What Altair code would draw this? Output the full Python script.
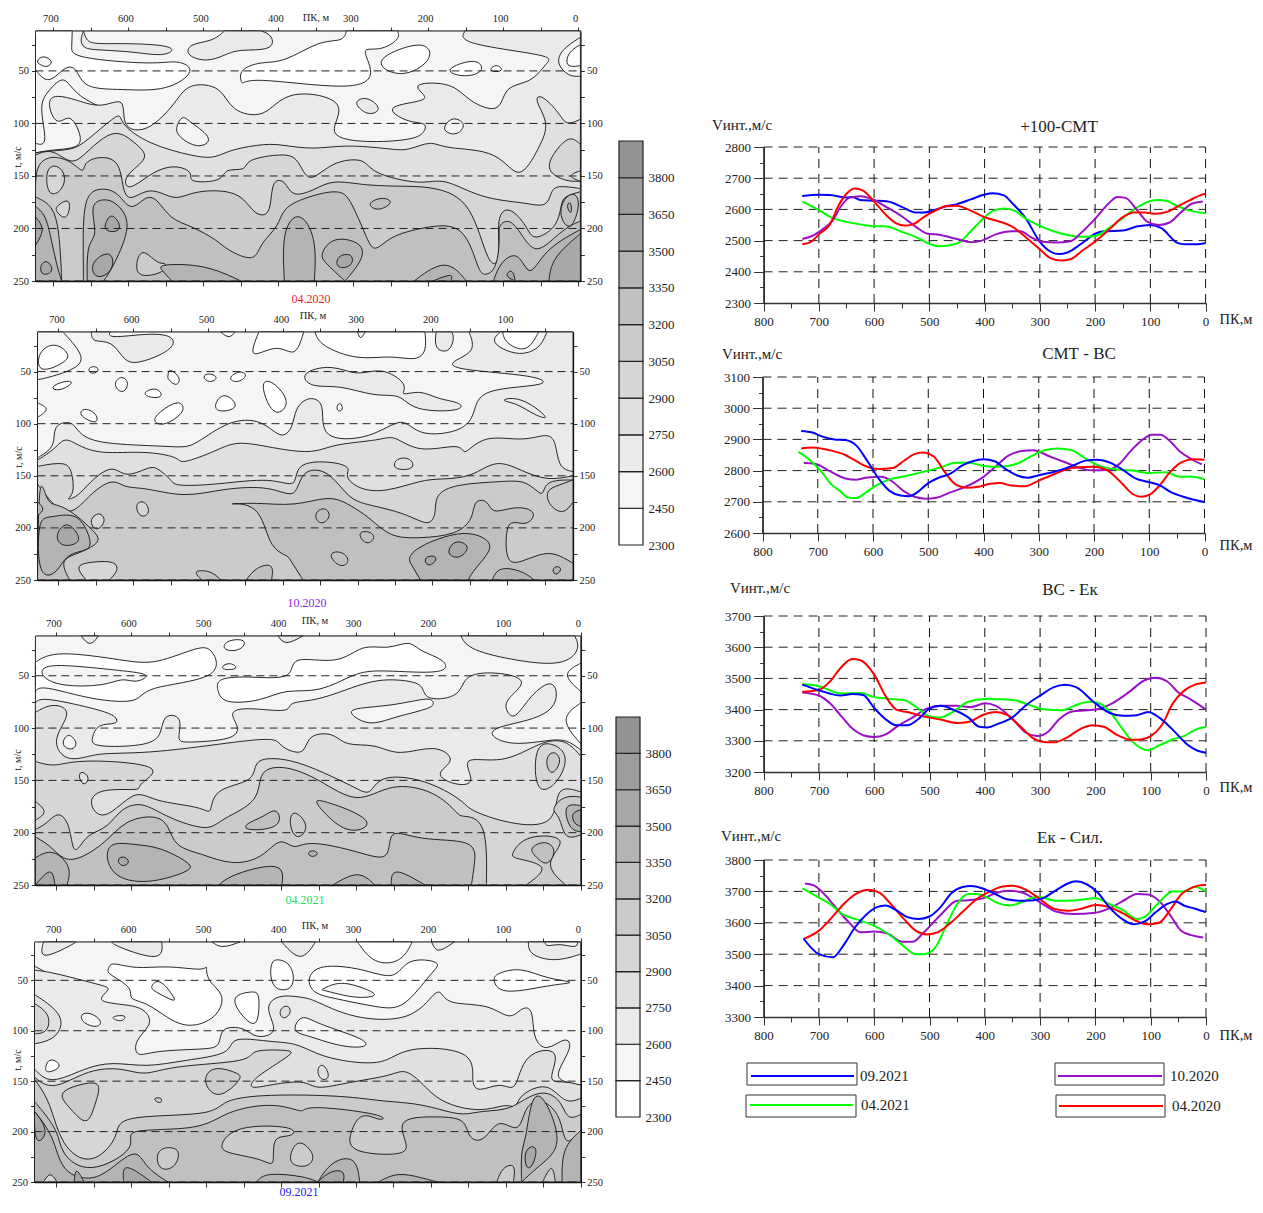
import altair as alt, pandas as pd
alt.data_transformers.disable_max_rows()
W,H=1247,1191
FONT="Liberation Serif"
GRAYS=["#ffffff","#f5f5f5","#eaeaea","#e0e0e0","#d6d6d6","#cbcbcb","#c0c0c0","#b4b4b4","#a8a8a8","#9d9d9d","#939393"]
LEVELS=[2300,2450,2600,2750,2900,3050,3200,3350,3500,3650,3800,3950]

P1_SHAPES=[
(0,[(724,49),(706,60),(685,47),(669,49),(655,65),(608,67),(551,67),(516,50),(538,41),(571,43),(663,37),(674,27),(675,12),(724,12)]),
(1,[(723,41),(714,36),(702,41),(709,46),(717,44)]),
(2,[(660,12),(655,20),(642,24),(598,24),(543,27),(554,35),(592,32),(636,30),(658,28),(663,20)]),
(2,[(472,12),(489,21),(516,25),(519,35),(495,40),(472,35),(451,30),(412,29),(410,17),(423,12)]),
(0,[(450,50),(445,63),(429,57),(309,66),(276,52),(287,30),(265,30),(241,20),(241,12),(309,12),(317,21),(347,23),(391,40),(423,42)]),
(0,[(267,41),(227,27),(203,27),(200,40),(235,54)]),
(0,[(173,50),(156,43),(135,41),(129,50),(151,55)]),
(0,[(118,50),(109,44),(101,50)]),
(1,[(724,119),(710,117),(717,85),(706,70),(685,57),(666,75),(614,92),(608,101),(608,250),(724,250)]),
(2,[(724,128),(701,125),(668,122),(666,109),(679,93),(695,100),(706,81),(695,74),(668,78),(636,84),(608,78),(606,100),(587,106),(565,100),(538,81),(518,64),(478,67),(461,86),(418,92),(385,71),(314,81),(331,109),(282,117),(227,115),(208,109),(205,100),(227,98),(252,85),(211,79),(205,73),(216,63),(170,63),(145,78),(107,87),(96,66),(64,60),(45,43),(47,35),(145,24),(151,12),(-3,12),(-3,250),(724,250)]),
(1,[(-3,18),(20,30),(26,43),(12,54),(-3,55)]),
(0,[(-3,25),(12,33),(14,45),(-3,45)]),
(3,[(724,128),(701,126),(676,124),(655,116),(614,92),(608,101),(570,119),(516,130),(486,132),(461,125),(418,120),(391,121),(352,124),(309,121),(254,124),(227,125),(197,118),(173,124),(110,128),(80,150),(53,122),(42,100),(56,79),(47,75),(26,90),(15,100),(-3,96),(-3,250),(724,250)]),
(4,[(724,130),(701,126),(676,137),(655,127),(620,108),(593,119),(576,133),(603,149),(598,162),(568,147),(538,141),(516,147),(516,155),(478,154),(470,144),(445,144),(439,135),(396,130),(374,135),(358,154),(328,138),(287,135),(271,147),(211,157),(178,154),(129,170),(74,175),(45,178),(36,166),(26,160),(-3,162),(-3,250),(724,250)]),
(5,[(724,159),(720,140),(701,132),(676,137),(660,146),(655,135),(617,134),(608,159),(597,172),(570,162),(538,172),(510,165),(456,166),(434,184),(412,185),(408,157),(391,156),(380,168),(352,163),(325,155),(282,159),(227,160),(189,163),(145,179),(121,230),(105,227),(107,192),(91,182),(69,198),(58,209),(31,198),(23,179),(17,170),(-3,165),(-3,250),(724,250)]),
(4,[(709,154),(706,143),(695,141),(685,150),(690,163),(704,167)]),
(4,[(695,179),(681,173),(679,182),(685,190),(695,184)]),
(6,[(724,170),(703,180),(693,205),(689,250),(724,250)]),
(6,[(660,250),(660,216),(657,173),(636,163),(614,167),(597,181),(578,171),(562,173),(543,190),(516,198),(483,211),(467,220),(434,229),(423,214),(401,198),(391,181),(358,170),(320,165),(303,176),(284,205),(271,220),(249,208),(205,200),(156,200),(135,236),(124,243),(110,236),(105,211),(105,198),(91,193),(75,206),(56,221),(31,208),(12,198),(-3,193),(-3,250)]),
(7,[(724,179),(711,189),(703,211),(695,236),(689,250),(724,250)]),
(7,[(649,179),(630,173),(614,179),(600,198),(619,233),(633,250),(655,250),(654,217),(643,205)]),
(5,[(589,236),(581,221),(562,233),(551,233),(554,241),(581,245)]),
(7,[(392,250),(392,205),(372,188),(352,211),(352,250)]),
(7,[(341,224),(325,210),(292,215),(290,230),(311,250),(336,233)]),
(7,[(219,250),(178,233),(149,250)]),
(7,[(113,250),(102,233),(80,225),(64,246),(42,221),(-3,201),(-3,250)]),
(7,[(552,235),(499,236),(450,250),(542,250),(554,240)]),
(8,[(724,189),(714,201),(724,216)]),
(8,[(717,236),(709,231),(701,240),(714,244)]),
(8,[(630,195),(622,187),(611,198),(619,203),(630,201)]),
(8,[(648,233),(625,223),(622,239),(642,247)]),
(8,[(320,227),(303,225),(303,235),(320,237)]),
(8,[(39,250),(31,228),(-3,205),(-3,250)]),
(8,[(194,250),(170,244),(170,250)]),
(8,[(96,245),(88,240),(84,250)]),
(6,[(276,175),(262,171),(249,175),(265,182),(276,179)]),
(2,[(295,79),(281,76),(265,86),(279,91),(292,85)]),
(1,[(535,103),(527,94),(516,100),(491,114),(508,122),(532,112)]),
(1,[(178,103),(167,95),(152,101),(162,110),(175,108)]),
(4,[(39,144),(31,128),(12,114),(-3,120),(-3,155),(17,154)]),
(3,[(11,150),(-3,145),(-3,155)]),
(6,[(23,181),(15,170),(4,168),(-1,179),(9,198),(20,193)]),
(7,[(15,179),(10,175),(9,186)]),
]

P2_SHAPES=[
(1,[(694,12),(669,35),(683,48),(725,57),(728,57),(728,12)]),
(0,[(725,32),(705,24),(688,33),(694,41),(725,49)]),
(2,[(656,12),(652,21),(629,22),(612,38),(593,41),(562,33),(547,24),(553,16),(582,14),(627,17),(631,12)]),
(0,[(483,12),(472,17),(464,12)]),
(0,[(432,12),(441,35),(408,25),(385,33),(372,12)]),
(0,[(357,12),(345,25),(300,37),(258,35),(224,38),(210,29),(210,12)]),
(1,[(300,12),(296,18),(290,12)]),
(2,[(195,12),(195,27),(179,30),(172,19),(174,12)]),
(2,[(728,134),(725,131),(706,121),(705,103),(683,99),(672,108),(644,118),(570,121),(536,122),(514,118),(472,99),(430,98),(404,112),(388,103),(382,86),(365,76),(345,83),(343,112),(283,112),(241,96),(216,110),(160,105),(143,86),(126,68),(54,63),(70,54),(160,48),(171,40),(146,30),(151,12),(12,12),(12,250),(728,250)]),
(1,[(109,12),(118,22),(87,33),(59,27),(47,12)]),
(0,[(106,12),(100,22),(75,29),(58,12)]),
(2,[(371,52),(334,45),(300,53),(269,48),(236,62),(241,72),(216,69),(193,76),(165,80),(168,87),(222,86),(244,73),(278,73),(323,64),(359,64)]),
(2,[(106,78),(81,76),(47,94),(64,91),(87,81)]),
(0,[(660,48),(653,45),(646,48),(654,52)]),
(0,[(553,54),(551,48),(538,56),(543,63),(553,57)]),
(0,[(506,55),(498,52),(488,56),(498,60)]),
(0,[(471,56),(458,50),(449,54),(461,60)]),
(0,[(625,62),(615,55),(607,62),(615,70)]),
(0,[(708,64),(688,59),(683,62),(700,68)]),
(0,[(586,71),(570,66),(562,73),(573,75)]),
(0,[(489,80),(477,72),(461,84),(486,88)]),
(0,[(427,62),(413,61),(394,78),(405,89),(418,83)]),
(0,[(569,92),(545,80),(534,83),(537,91),(556,100),(569,99)]),
(0,[(670,89),(663,86),(650,91),(650,99),(666,94)]),
(0,[(328,85),(324,80),(320,85),(324,88)]),
(0,[(728,80),(715,86),(728,94)]),
(3,[(728,135),(705,124),(691,115),(672,121),(641,128),(587,127),(543,132),(533,137),(489,126),(458,118),(407,124),(360,127),(329,120),(273,116),(250,113),(216,126),(165,120),(157,129),(129,113),(81,116),(50,111),(36,118),(30,140),(12,146),(12,250),(728,250)]),
(4,[(728,141),(694,138),(683,147),(680,166),(688,172),(674,169),(657,156),(629,142),(610,150),(582,143),(568,143),(549,154),(538,159),(487,158),(419,153),(385,159),(379,140),(340,137),(312,142),(315,151),(295,162),(261,164),(216,155),(188,153),(148,150),(115,137),(81,145),(47,153),(12,150),(12,250),(728,250)]),
(3,[(250,143),(247,134),(230,134),(227,143)]),
(5,[(728,158),(715,170),(701,180),(680,184),(657,168),(629,155),(610,161),(582,162),(531,169),(480,163),(419,161),(385,169),(373,147),(340,147),(312,170),(283,178),(238,186),(207,196),(196,185),(193,169),(165,159),(109,156),(75,156),(53,169),(47,156),(12,154),(12,250),(728,250)]),
(4,[(674,237),(652,233),(627,233),(622,241),(632,250),(663,250)]),
(4,[(657,193),(646,186),(638,193),(649,202)]),
(4,[(596,178),(585,175),(579,185),(590,189)]),
(6,[(373,250),(390,231),(396,226),(418,215),(434,180),(472,178),(434,176),(385,178),(340,171),(312,178),(283,191),(255,207),(216,209),(171,205),(148,191),(143,175),(126,175),(118,185),(89,180),(64,185),(75,197),(95,194),(101,210),(98,231),(81,232),(58,226),(36,225),(12,234),(12,250)]),
(6,[(725,159),(715,175),(701,178),(680,186),(657,201),(646,213),(672,224),(694,232),(685,250),(728,250)]),
(6,[(517,242),(497,242),(483,250),(508,250)]),
(6,[(449,250),(435,239),(415,236),(415,250)]),
(6,[(357,188),(346,181),(337,188),(348,196)]),
(6,[(298,205),(284,204),(278,210),(289,215)]),
(6,[(337,226),(323,223),(312,231),(323,237)]),
(5,[(46,165),(30,159),(12,154),(12,175),(25,185),(42,178)]),
(7,[(230,229),(216,218),(165,205),(132,210),(123,221),(143,239),(152,250),(216,250),(227,236)]),
(8,[(210,228),(193,228),(205,237)]),
(8,[(177,220),(168,213),(152,218),(163,228),(176,226)]),
(7,[(725,197),(710,191),(676,188),(659,210),(662,221),(688,226),(702,242),(725,247)]),
(8,[(702,207),(691,197),(680,201),(672,213),(694,217)]),
(7,[(39,240),(33,237),(28,240),(35,245)]),
(7,[(120,250),(109,239),(81,242),(64,250)]),
(7,[(728,175),(720,182),(728,188)]),
]

P3_SHAPES=[
(0,[(728,37),(694,28),(612,35),(567,37),(514,24),(494,27),(491,51),(576,61),(593,74),(652,72),(713,61),(728,65)]),
(1,[(716,43),(691,40),(618,45),(579,49),(595,56),(612,53),(640,59),(691,59),(716,51)]),
(0,[(480,53),(438,51),(388,51),(382,33),(326,37),(292,22),(258,24),(230,18),(213,27),(185,35),(188,47),(264,45),(303,49),(348,64),(393,64),(427,73),(472,75),(483,64)]),
(0,[(475,25),(472,17),(449,16),(455,25)]),
(0,[(478,41),(468,38),(459,43),(475,44)]),
(2,[(404,12),(393,19),(371,12)]),
(2,[(667,12),(655,20),(644,12)]),
(2,[(160,12),(143,25),(84,35),(28,38),(3,25),(8,12)]),
(0,[(0,38),(20,49),(0,65)]),
(0,[(0,76),(22,92),(0,115)]),
(2,[(728,76),(713,72),(654,81),(624,88),(621,96),(643,97),(651,110),(643,117),(587,116),(562,107),(556,89),(534,91),(537,110),(522,113),(469,110),(458,99),(466,86),(444,81),(393,84),(388,76),(354,73),(315,64),(270,54),(225,56),(211,62),(202,72),(163,68),(152,50),(107,48),(76,56),(98,72),(98,83),(87,89),(67,70),(39,56),(34,76),(62,91),(115,100),(112,110),(84,115),(45,112),(20,112),(0,121),(0,250),(728,250)]),
(1,[(306,86),(281,96),(247,89),(202,81),(199,75),(208,72),(250,78),(295,81)]),
(3,[(728,85),(705,78),(683,86),(702,110),(688,128),(663,128),(635,124),(567,123),(458,113),(410,111),(399,118),(371,124),(362,108),(331,106),(312,116),(275,116),(242,125),(197,118),(171,131),(191,143),(169,153),(143,151),(154,129),(104,132),(56,115),(22,113),(0,127),(0,250),(728,250)]),
(1,[(691,113),(683,106),(673,115),(680,120),(688,118)]),
(4,[(728,132),(700,136),(663,131),(567,137),(591,153),(591,159),(635,159),(654,170),(635,186),(596,162),(567,170),(511,175),(494,180),(486,159),(438,150),(433,131),(388,131),(343,143),(303,156),(281,162),(264,147),(208,151),(160,169),(146,178),(96,190),(39,190),(31,159),(0,161),(0,250),(728,250)]),
(3,[(668,143),(663,143),(657,148),(663,154),(669,148)]),
(4,[(59,121),(39,116),(20,127),(31,150),(57,159)]),
(5,[(46,131),(37,123),(27,131),(39,144)]),
(5,[(728,197),(713,191),(697,182),(683,194),(677,217),(666,210),(654,201),(632,194),(612,178),(584,173),(551,185),(500,196),(478,186),(433,169),(427,143),(393,138),(348,150),(298,169),(253,155),(197,162),(166,181),(157,185),(129,194),(126,250),(728,250)]),
(4,[(728,170),(715,180),(728,188)]),
(5,[(37,178),(22,166),(0,166),(0,202),(20,204),(28,185)]),
(7,[(20,175),(0,174),(0,199),(14,195)]),
(8,[(11,182),(0,178),(0,194),(8,191)]),
(5,[(90,220),(70,204),(22,207),(45,229),(20,250),(73,250),(48,233),(84,225)]),
(6,[(66,215),(48,209),(35,217),(45,230),(59,223)]),
(6,[(728,204),(708,213),(691,224),(669,224),(635,209),(607,190),(570,185),(551,194),(539,212),(506,220),(466,229),(427,223),(402,207),(382,215),(360,209),(298,218),(258,224),(253,199),(213,207),(149,209),(143,229),(146,250),(728,250)]),
(6,[(444,191),(424,185),(407,178),(404,194),(444,197)]),
(5,[(382,180),(365,194),(379,205),(388,191)]),
(6,[(351,172),(343,170),(281,188),(309,199),(340,182)]),
(7,[(630,212),(596,212),(562,215),(525,229),(528,237),(579,247),(624,239)]),
(8,[(618,226),(610,223),(603,228),(612,232)]),
(7,[(728,224),(705,218),(683,233),(686,250),(728,250)]),
(8,[(728,250),(708,236),(702,250)]),
(7,[(483,250),(461,240),(404,231),(399,250)]),
(7,[(331,250),(298,239),(275,250)]),
(7,[(253,250),(247,236),(208,250)]),
(7,[(364,220),(358,217),(351,220),(358,223)]),
]

P4_SHAPES=[
(2,[(717,12),(717,27),(678,14),(675,12)]),
(2,[(626,12),(615,17),(565,28),(559,12)]),
(2,[(399,12),(374,28),(354,12)]),
(0,[(298,12),(275,31),(242,30),(225,12)]),
(0,[(492,12),(478,17),(455,12)]),
(2,[(199,12),(190,21),(169,12)]),
(2,[(70,12),(65,24),(34,30),(0,24),(0,12)]),
(1,[(48,12),(44,16),(28,14),(8,17),(4,12)]),
(0,[(629,39),(624,33),(593,38),(551,36),(506,40),(500,36),(497,51),(478,65),(489,86),(522,95),(551,87),(579,73),(601,68),(601,57),(629,44)]),
(1,[(573,57),(562,50),(545,65),(544,70),(565,62)]),
(0,[(413,35),(404,30),(387,36),(385,57),(410,57)]),
(0,[(463,67),(438,62),(430,67),(433,94),(452,84)]),
(0,[(362,49),(345,36),(292,39),(250,47),(230,30),(191,33),(202,44),(236,74),(270,76),(326,68),(354,62)]),
(1,[(343,59),(320,52),(287,59),(275,65),(303,67),(340,60)]),
(0,[(115,49),(107,43),(79,39),(45,48),(10,52),(45,55),(101,62)]),
(2,[(729,36),(708,46),(717,57),(729,58)]),
(2,[(729,40),(702,43),(646,54),(629,59),(643,71),(596,75),(579,84),(576,95),(593,110),(590,124),(565,120),(506,118),(483,114),(478,98),(449,98),(433,106),(407,100),(419,78),(402,66),(376,67),(354,70),(303,86),(230,87),(197,63),(185,64),(171,73),(124,75),(96,87),(79,78),(65,81),(62,106),(45,118),(22,108),(14,118),(31,141),(22,150),(0,154),(0,250),(729,250)]),
(3,[(729,64),(694,85),(702,106),(729,113)]),
(4,[(729,73),(711,84),(713,100),(729,103)]),
(1,[(666,84),(654,83),(641,90),(646,96),(663,92)]),
(1,[(624,86),(608,85),(612,90),(621,89)]),
(3,[(402,81),(393,75),(387,81),(396,88)]),
(1,[(382,100),(371,86),(348,94),(292,108),(292,116),(326,114),(362,105)]),
(0,[(714,137),(708,128),(694,135),(710,141)]),
(3,[(729,138),(705,150),(663,138),(624,132),(579,135),(528,129),(472,122),(463,108),(416,111),(382,113),(354,122),(320,129),(264,132),(230,118),(152,122),(146,148),(135,159),(107,152),(87,157),(73,125),(31,121),(42,148),(22,150),(0,154),(0,250),(729,250)]),
(4,[(729,146),(702,156),(657,140),(612,138),(581,143),(539,135),(449,130),(438,120),(393,120),(390,125),(433,146),(438,156),(416,154),(371,150),(351,157),(309,151),(258,145),(236,140),(213,151),(185,170),(135,179),(101,173),(87,176),(79,164),(45,154),(22,170),(0,167),(0,250),(729,250)]),
(5,[(500,145),(486,137),(461,142),(455,148),(480,164),(497,157)]),
(5,[(694,162),(663,153),(643,154),(649,173),(660,191),(680,177)]),
(3,[(351,138),(343,134),(336,146),(347,148)]),
(5,[(570,167),(559,167),(562,172)]),
(5,[(729,148),(708,173),(691,211),(654,229),(618,205),(607,186),(500,183),(475,170),(416,164),(320,165),(264,170),(213,173),(163,183),(138,180),(101,178),(79,170),(51,161),(28,170),(17,186),(0,183),(0,250),(729,250)]),
(6,[(729,170),(699,199),(691,220),(654,238),(596,215),(602,199),(512,197),(472,181),(410,173),(371,181),(360,175),(270,183),(270,189),(292,183),(306,202),(301,219),(242,222),(233,211),(239,189),(191,186),(157,189),(149,205),(129,208),(109,189),(84,199),(73,176),(51,170),(28,186),(20,211),(0,199),(0,250),(729,250)]),
(5,[(478,213),(455,196),(388,196),(388,205),(410,207),(410,232),(427,227),(469,221)]),
(5,[(386,221),(375,210),(357,223),(365,234),(385,232)]),
(5,[(565,227),(559,217),(537,218),(542,234),(559,237)]),
(7,[(729,180),(705,205),(691,236),(660,246),(632,240),(596,220),(580,235),(551,250),(729,250)]),
(7,[(433,250),(416,242),(371,245),(351,250)]),
(7,[(351,250),(331,231),(303,228),(295,250)]),
(8,[(351,250),(334,240),(317,240),(317,250)]),
(7,[(270,250),(244,242),(213,246),(191,250)]),
(7,[(79,221),(73,205),(65,170),(51,167),(34,195),(34,218),(56,234),(79,250)]),
(8,[(73,234),(73,218),(59,216),(65,234)]),
(5,[(112,250),(104,237),(89,234),(90,250)]),
(5,[(51,250),(39,235),(34,250)]),
(8,[(729,180),(713,199),(727,210)]),
(4,[(717,250),(708,242),(699,250)]),
(8,[(676,250),(673,238),(663,250)]),
(8,[(607,234),(573,250),(610,250)]),
(7,[(0,199),(22,218),(25,250),(0,250)]),
]

L1_BLUE=[(730,2643),(700,2647),(680,2646),(650,2638),(640,2640),(625,2630),(600,2628),(575,2625),(550,2608),(525,2590),(510,2590),(490,2598),(470,2610),(450,2617),(425,2632),(400,2648),(385,2652),(365,2645),(350,2620),(325,2570),(300,2496),(275,2460),(265,2457),(250,2462),(225,2490),(200,2522),(185,2530),(150,2532),(125,2545),(100,2550),(80,2540),(50,2492),(35,2488),(15,2488),(0,2492)]
L1_RED=[(730,2488),(715,2495),(700,2520),(680,2552),(665,2610),(650,2650),(635,2667),(620,2660),(600,2625),(580,2585),(560,2555),(545,2548),(530,2552),(510,2575),(490,2595),(470,2610),(450,2612),(430,2600),(400,2575),(375,2562),(350,2545),(325,2510),(300,2472),(280,2443),(262,2436),(245,2440),(225,2465),(200,2497),(175,2535),(150,2575),(130,2590),(110,2590),(90,2586),(70,2592),(50,2610),(30,2628),(10,2645),(0,2650)]
L1_GREEN=[(730,2625),(700,2598),(675,2572),(650,2560),(625,2552),(600,2546),(580,2546),(550,2528),(525,2512),(500,2490),(485,2482),(465,2484),(445,2495),(425,2530),(400,2575),(385,2595),(365,2603),(345,2595),(325,2570),(300,2547),(275,2530),(250,2518),(225,2512),(200,2515),(175,2540),(150,2572),(125,2605),(100,2627),(85,2630),(70,2627),(50,2610),(30,2597),(0,2588)]
L1_PURPLE=[(730,2505),(710,2517),(690,2540),(675,2565),(660,2610),(645,2637),(625,2642),(600,2630),(580,2610),(550,2578),(525,2545),(505,2523),(480,2518),(450,2505),(425,2495),(405,2500),(380,2520),(350,2530),(335,2530),(315,2510),(295,2496),(270,2494),(245,2498),(225,2525),(200,2570),(175,2620),(160,2640),(145,2637),(125,2600),(105,2560),(85,2550),(65,2558),(45,2590),(25,2618),(5,2625)]
L2_BLUE=[(730,2927),(710,2922),(690,2908),(670,2900),(650,2898),(630,2880),(610,2830),(590,2775),(570,2735),(550,2720),(535,2718),(520,2730),(500,2760),(480,2778),(460,2790),(440,2815),(420,2830),(400,2836),(380,2830),(360,2805),(340,2785),(320,2777),(300,2785),(270,2797),(240,2815),(215,2832),(195,2835),(170,2825),(150,2805),(125,2775),(100,2763),(80,2752),(60,2730),(40,2717),(15,2705),(0,2699)]
L2_RED=[(730,2871),(710,2874),(680,2866),(650,2850),(630,2830),(610,2812),(590,2805),(565,2808),(545,2830),(525,2853),(510,2858),(490,2845),(470,2795),(450,2755),(430,2745),(410,2748),(390,2757),(370,2760),(350,2752),(325,2750),(300,2768),(270,2790),(240,2808),(200,2812),(175,2800),(150,2760),(130,2725),(115,2716),(100,2722),(80,2755),(60,2800),(40,2828),(20,2836),(0,2835)]
L2_GREEN=[(735,2860),(715,2835),(695,2800),(675,2755),(660,2735),(645,2714),(630,2712),(615,2727),(595,2752),(570,2772),(540,2783),(500,2800),(475,2812),(450,2825),(425,2825),(400,2815),(370,2812),(340,2822),(315,2845),(290,2865),(265,2871),(240,2865),(215,2838),(190,2815),(165,2805),(130,2800),(100,2792),(70,2795),(45,2780),(25,2781),(0,2772)]
L2_PURPLE=[(725,2824),(705,2822),(680,2800),(650,2775),(630,2771),(610,2778),(585,2780),(565,2765),(545,2735),(525,2716),(505,2710),(485,2713),(460,2730),(430,2750),(400,2780),(380,2810),(355,2848),(330,2863),(310,2865),(280,2845),(250,2825),(225,2808),(205,2801),(175,2802),(155,2820),(135,2860),(115,2895),(95,2915),(80,2915),(60,2890),(45,2862),(25,2838),(5,2820)]
L3_RED=[(730,3457),(700,3463),(680,3490),(660,3535),(640,3562),(625,3558),(600,3512),(580,3445),(560,3400),(540,3392),(510,3378),(480,3368),(450,3357),(430,3360),(400,3385),(380,3392),(360,3383),(335,3345),(310,3305),(290,3295),(275,3295),(250,3312),(225,3340),(205,3350),(185,3345),(160,3318),(135,3303),(115,3305),(100,3315),(80,3350),(60,3420),(40,3460),(20,3480),(0,3487)]
L3_BLUE=[(730,3480),(700,3462),(660,3445),(640,3450),(620,3447),(600,3405),(580,3370),(560,3350),(540,3350),(520,3370),(500,3403),(480,3412),(460,3402),(430,3375),(410,3345),(395,3343),(375,3355),(350,3375),(325,3415),(300,3445),(275,3472),(255,3480),(235,3472),(200,3420),(175,3390),(150,3380),(125,3382),(105,3392),(85,3375),(60,3335),(35,3290),(15,3268),(0,3262)]
L3_GREEN=[(730,3482),(700,3475),(660,3452),(625,3453),(600,3440),(575,3435),(545,3430),(525,3410),(500,3378),(480,3375),(460,3390),(430,3425),(400,3434),(370,3433),(345,3430),(320,3415),(290,3400),(260,3398),(235,3415),(210,3425),(190,3418),(170,3385),(150,3335),(125,3285),(105,3270),(85,3285),(60,3305),(40,3315),(20,3335),(0,3345)]
L3_PURPLE=[(730,3455),(700,3445),(680,3420),(660,3380),(640,3340),(620,3318),(600,3312),(580,3320),(555,3350),(530,3375),(505,3403),(480,3412),(450,3412),(425,3408),(400,3420),(380,3412),(350,3370),(325,3325),(305,3315),(285,3330),(265,3370),(240,3395),(200,3400),(175,3415),(140,3455),(110,3495),(90,3502),(70,3490),(50,3455),(30,3435),(0,3400)]
L4_BLUE=[(728,3550),(700,3500),(675,3490),(655,3530),(635,3585),(615,3625),(595,3650),(580,3655),(560,3640),(540,3618),(520,3612),(500,3620),(480,3650),(460,3695),(440,3714),(425,3717),(405,3710),(385,3695),(360,3675),(330,3670),(300,3675),(270,3705),(250,3725),(235,3732),(215,3722),(195,3695),(175,3650),(150,3610),(130,3595),(110,3605),(90,3635),(70,3660),(55,3668),(40,3655),(20,3645),(0,3634)]
L4_RED=[(728,3548),(700,3575),(680,3610),(655,3660),(630,3695),(610,3705),(590,3695),(570,3660),(545,3610),(525,3575),(505,3563),(485,3570),(465,3595),(440,3635),(415,3675),(390,3700),(370,3715),(350,3718),(325,3705),(300,3675),(275,3645),(250,3638),(225,3645),(200,3657),(175,3650),(150,3630),(125,3605),(105,3595),(85,3600),(65,3640),(45,3690),(25,3712),(5,3720),(0,3720)]
L4_GREEN=[(730,3710),(700,3680),(680,3660),(655,3625),(630,3610),(600,3590),(575,3565),(550,3530),(525,3500),(510,3500),(490,3520),(470,3590),(450,3660),(430,3692),(415,3692),(395,3680),(375,3662),(355,3655),(330,3668),(305,3683),(270,3670),(230,3673),(200,3678),(175,3660),(150,3640),(125,3612),(110,3620),(85,3665),(60,3700),(40,3700),(20,3715),(0,3700)]
L4_PURPLE=[(725,3725),(710,3720),(695,3700),(670,3650),(645,3600),(625,3570),(600,3572),(575,3565),(550,3540),(530,3540),(510,3570),(480,3625),(450,3670),(430,3672),(400,3680),(380,3695),(355,3702),(330,3695),(300,3665),(270,3635),(240,3628),(200,3632),(170,3650),(145,3675),(125,3692),(105,3690),(85,3670),(65,3625),(45,3575),(25,3560),(5,3553)]

BLUE,RED,GREEN,PURPLE="#0000ff","#ff0000","#00ff00","#9a12c8"
OX,OY=8,8
def px(a,b): return [a-OX,b-OX]
def py(a,b): return [a-OY,b-OY]

def contour(shapes,xr,yr,xd,yd,xticks,lo=-3):
    L,R=xd; T,B=yd
    rows=[]
    full=[(1,[(L,T),(R,T),(R,B),(L,B)])]+shapes
    def on_edge(p,t): return p>=L-0.5 or p<=R+0.5 or t<=T+1 or t>=B-0.5
    for i,(lev,pts) in enumerate(full):
        k=0; n=len(pts)
        for j,(p,t) in enumerate(pts):
            p=min(max(p,R),L); t=min(max(t,T),B)
            edge=on_edge(p,t)
            if not edge:
                # basis-spline control point chosen so the closed curve runs through the read point
                a,b=pts[j-1],pts[(j+1)%n]
                p=min(max(p*4/3-(a[0]+b[0])/6,R),L); t=min(max(t*4/3-(a[1]+b[1])/6,T),B)
            for _ in range(3 if edge else 1):
                rows.append(dict(pk=p,t=t,id=f"{i:03d}",k=k,f=GRAYS[lev])); k+=1
    xs=alt.Scale(domain=[L,R],range=px(*xr),nice=False,zero=False)
    ys=alt.Scale(domain=[T,B],range=py(*yr),nice=False,zero=False)
    tvals=[25*i for i in range(1,11)]
    lab=dict(labelFont=FONT,labelFontSize=10.5,labelColor="#222",domainColor="#111",tickColor="#333",domainWidth=1.3,tickWidth=1,grid=False,title=None,labelOverlap=False)
    area=alt.Chart(pd.DataFrame(rows)).mark_line(stroke="#111",strokeWidth=0.9,interpolate="basis-closed").encode(
        x=alt.X("pk:Q",scale=xs,axis=alt.Axis(orient="top",offset=-(yr[0]-OY),values=xticks,labelExpr="datum.value%100==0?datum.label:''",tickSize=4,labelPadding=4,labelOffset=lo,labelFlush=False,**lab)),
        y=alt.Y("t:Q",scale=ys,axis=alt.Axis(orient="left",offset=-(xr[0]-OX),values=tvals,labelExpr="datum.value%50==0?datum.label:''",tickSize=4,labelPadding=3,**lab)),
        detail="id:N",order="k:Q",fill=alt.Fill("f:N",scale=None))
    gr=pd.DataFrame(dict(t=[50,100,150,200,250],a=[L]*5,b=[R]*5))
    grid=alt.Chart(gr).mark_rule(stroke="#222",strokeWidth=1,strokeDash=[8,5]).encode(
        y=alt.Y("t:Q",scale=ys,axis=alt.Axis(orient="right",offset=xr[1]-OX-W,values=tvals,labelExpr="datum.value%50==0?datum.label:''",tickSize=4,labelPadding=2,**lab)),
        x=alt.X("a:Q",scale=xs,axis=alt.Axis(orient="bottom",offset=yr[1]-OY-H,values=xticks,labels=False,tickSize=5,**lab)),x2="b:Q")
    return [area,grid]

def lines(series,xr,yr,yd):
    xs=alt.Scale(domain=[800,0],range=px(*xr),nice=False,zero=False)
    ys=alt.Scale(domain=list(yd),range=[yr[1]-OY,yr[0]-OY],nice=False,zero=False)
    lab=dict(labelFont=FONT,labelFontSize=13,labelColor="#222",grid=False,title=None,tickColor="#333",tickWidth=1,format="d",labelFlush=False,labelOverlap=False)
    yv=list(range(yd[0],yd[1]+1,100)); xv=list(range(0,801,100))
    h=pd.DataFrame(dict(v=yv[1:],a=[800]*(len(yv)-1),b=[0]*(len(yv)-1)))
    v=pd.DataFrame(dict(p=xv[:-1],a=[yd[0]]*8,b=[yd[1]]*8))
    g1=alt.Chart(h).mark_rule(stroke="#222",strokeWidth=1,strokeDash=[9,6]).encode(
        y=alt.Y("v:Q",scale=ys,axis=alt.Axis(orient="left",offset=-(xr[0]-OX),values=yv,tickSize=10,labelPadding=3,domainColor="#111",domainWidth=1.6,**lab)),
        x=alt.X("a:Q",scale=xs,axis=None),x2="b:Q")
    g2=alt.Chart(v).mark_rule(stroke="#111",strokeWidth=1,strokeDash=[9,6]).encode(
        x=alt.X("p:Q",scale=xs,axis=alt.Axis(orient="bottom",offset=yr[1]-OY-H,values=xv,tickSize=8,labelPadding=4,domainColor="#333",domainWidth=1.6,**lab)),
        y=alt.Y("a:Q",scale=ys,axis=None),y2="b:Q")
    rows=[]
    for nm,col,pts in series:
        rows+=[dict(pk=p,v=w,s=nm,c=col,k=i) for i,(p,w) in enumerate(pts)]
    ln=alt.Chart(pd.DataFrame(rows)).mark_line(strokeWidth=2,interpolate="monotone").encode(
        x=alt.X("pk:Q",scale=xs,axis=alt.Axis(orient="bottom",offset=yr[1]-OY-H,values=list(range(0,801,50)),labels=False,tickSize=5,domain=False,**lab)),
        y=alt.Y("v:Q",scale=ys,axis=alt.Axis(orient="left",offset=-(xr[0]-OX),values=list(range(yd[0],yd[1]+1,50)),labels=False,tickSize=4,domain=False,**lab)),
        detail="s:N",order="k:Q",stroke=alt.Stroke("c:N",scale=None))
    return [g1,g2,ln]

def colorbar(xr,yr):
    ys=alt.Scale(domain=[2300,3950],range=[yr[1]-OY,yr[0]-OY],nice=False,zero=False)
    xs=alt.Scale(domain=[0,1],range=px(*xr))
    d=pd.DataFrame(dict(a=[0]*11,b=[1]*11,lo=LEVELS[:-1],hi=LEVELS[1:],f=GRAYS))
    return [alt.Chart(d).mark_rect(stroke="#222",strokeWidth=1.2).encode(
        x=alt.X("a:Q",scale=xs,axis=None),x2="b:Q",
        y=alt.Y("lo:Q",scale=ys,axis=alt.Axis(orient="right",offset=xr[1]-OX-W,values=LEVELS[:-1],format="d",title=None,grid=False,domain=False,ticks=False,labelFont=FONT,labelFontSize=13,labelColor="#222",labelPadding=5)),
        y2="hi:Q",fill=alt.Fill("f:N",scale=None))]

def legend():
    BOX=[("09.2021",BLUE,747,857,1063,1085,751,854,1076,860),("04.2021",GREEN,746,856,1095,1117,750,853,1105,861),("10.2020",PURPLE,1055,1164,1063,1085,1058,1162,1076,1170),("04.2020",RED,1056,1165,1095,1117,1059,1163,1106,1172)]
    d=pd.DataFrame([dict(n=n,c=c,x0=a-OX,x1=b-OX,y0=e-OY,y1=f-OY,l0=g-OX,l1=h-OX,ly=i-OY,tx=j-OX) for n,c,a,b,e,f,g,h,i,j in BOX])
    base=alt.Chart(d)
    r=base.mark_rect(fill="white",stroke="#333",strokeWidth=1).encode(x=alt.X("x0:Q",scale=None,axis=None),x2="x1:Q",y=alt.Y("y0:Q",scale=None,axis=None),y2="y1:Q")
    l=base.mark_rule(strokeWidth=2).encode(x=alt.X("l0:Q",scale=None,axis=None),x2="l1:Q",y=alt.Y("ly:Q",scale=None,axis=None),stroke=alt.Stroke("c:N",scale=None))
    t=base.mark_text(font=FONT,fontSize=15,align="left",baseline="middle",color="#222").encode(x=alt.X("tx:Q",scale=None,axis=None),y=alt.Y("ly:Q",scale=None,axis=None),text="n:N")
    return [r,l,t]

TEXTS=[("ПК, м",316,18,10.5,"#222",0),("t, м/с",18,157,10,"#222",-90),("04.2020",311,299,12,"#ee2222",0),
("ПК, м",313,316,10.5,"#222",0),("t, м/с",19,457,10,"#222",-90),("10.2020",307,603,12,"#8a2be2",0),
("ПК, м",315,621,10.5,"#222",0),("t, м/с",18,760,10,"#222",-90),("04.2021",305,900,12,"#22dd66",0),
("ПК, м",315,926,10.5,"#222",0),("t, м/с",18,1060,10,"#222",-90),("09.2021",299,1192,12,"#2222ee",0),
("Vинт.,м/с",742,125,15,"#222",0),("+100-СМТ",1059,127,17,"#222",0),("ПК,м",1236,320,14.5,"#222",0),
("Vинт.,м/с",752,354,15,"#222",0),("СМТ - ВС",1079,354,17,"#222",0),("ПК,м",1236,546,14.5,"#222",0),
("Vинт.,м/с",760,588,15,"#222",0),("ВС - Ек",1070,590,17,"#222",0),("ПК,м",1236,788,14.5,"#222",0),
("Vинт.,м/с",751,836,15,"#222",0),("Ек - Сил.",1070,838,17,"#222",0),("ПК,м",1236,1036,14.5,"#222",0)]

tx=pd.DataFrame([dict(s=a,x=b-OX,y=c-OY,z=d,c=e,r=f) for a,b,c,d,e,f in TEXTS])
texts=alt.Chart(tx).mark_text(font=FONT,align="center",baseline="middle").encode(
    x=alt.X("x:Q",scale=None,axis=None),y=alt.Y("y:Q",scale=None,axis=None),text="s:N",
    size=alt.Size("z:Q",scale=None),color=alt.Color("c:N",scale=None),angle=alt.Angle("r:Q",scale=None))

XT=list(range(0,701,50)); XT2=list(range(50,701,50))
layers=[]
layers+=contour(P1_SHAPES,(35.5,580.4),(31,281),(724,-3),(12,250),XT)
layers+=contour(P2_SHAPES,(37.5,573),(332,580),(728,12),(12,250),XT2,lo=-2)
layers+=contour(P3_SHAPES,(35.4,580.8),(636,885),(728,0),(12,250),XT)
layers+=contour(P4_SHAPES,(34.5,580.8),(942,1182),(729,0),(12,250),XT)
layers+=colorbar((619,643),(141,545))
layers+=colorbar((616,640),(717,1117))
layers+=lines([("b",BLUE,L1_BLUE),("g",GREEN,L1_GREEN),("p",PURPLE,L1_PURPLE),("r",RED,L1_RED)],(763.6,1205.6),(147,303),(2300,2800))
layers+=lines([("p",PURPLE,L2_PURPLE),("g",GREEN,L2_GREEN),("r",RED,L2_RED),("b",BLUE,L2_BLUE)],(762.5,1204.5),(377,533),(2600,3100))
layers+=lines([("p",PURPLE,L3_PURPLE),("g",GREEN,L3_GREEN),("r",RED,L3_RED),("b",BLUE,L3_BLUE)],(763.6,1206),(616,772),(3200,3700))
layers+=lines([("p",PURPLE,L4_PURPLE),("g",GREEN,L4_GREEN),("r",RED,L4_RED),("b",BLUE,L4_BLUE)],(763.6,1206),(860,1017),(3300,3800))
layers+=legend()
layers.append(texts)

chart=alt.layer(*layers).resolve_scale(x="independent",y="independent").properties(
    width=W,height=H,padding=0,autosize=alt.AutoSizeParams(type="none",contains="padding")
).configure_view(stroke=None).configure_axis(labelFont=FONT)
chart.save("out.html",embed_options={"renderer":"svg","actions":False})
